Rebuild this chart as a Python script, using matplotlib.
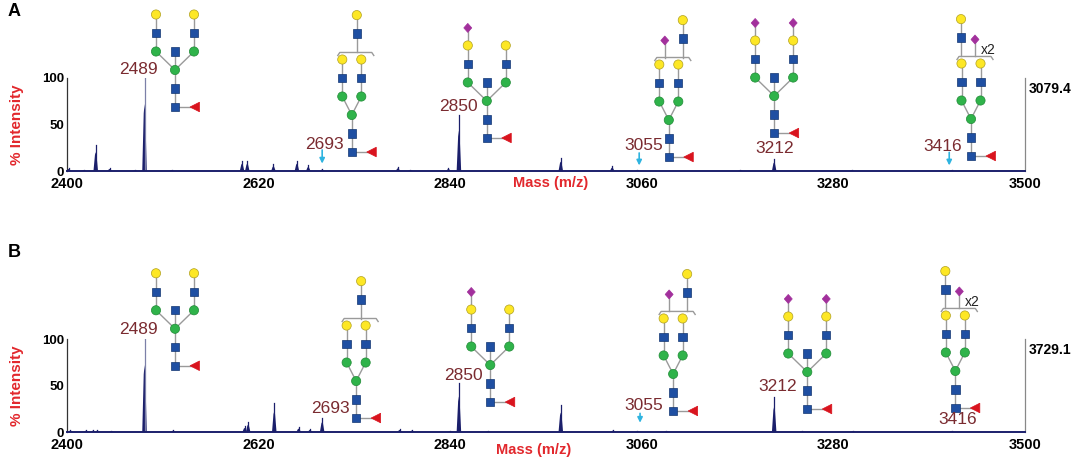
import matplotlib
matplotlib.use("Agg")
import matplotlib.pyplot as plt
import matplotlib.patches as mpatches
import matplotlib.transforms as mtransforms
from matplotlib.lines import Line2D

plt.rcParams['font.family'] = ['Liberation Sans', 'DejaVu Sans']

# ---------------- data ----------------
xticks = [2400, 2620, 2840, 3060, 3280, 3500]
yticks = [0, 50, 100]

A_mz = [2402, 2419, 2433, 2449, 2478, 2489, 2520, 2601, 2607, 2637, 2664, 2677, 2693,
        2780, 2794, 2838, 2850, 2967, 3026, 3055, 3173, 3212, 3301, 3416]
A_int = [3, 1, 28, 3, 1, 100, 1, 11, 11, 7, 11, 6, 2,
         4, 1, 3, 60, 14, 5, 1.5, 1, 13, 1, 1]
A_max = "3079.4"

B_mz = [2404, 2422, 2430, 2435, 2451, 2489, 2522, 2604, 2608, 2638, 2666, 2679, 2693,
        2782, 2796, 2840, 2850, 2883, 2967, 3027, 3055, 3088, 3212, 3244, 3302, 3416]
B_int = [2, 2, 2, 2, 1, 100, 2, 6, 11, 31, 5, 3, 15,
         3, 2, 1, 53, 1, 29, 2, 1, 1, 38, 1, 1, 1.5]
B_max = "3729.1"

peak_labels = ["2489", "2693", "2850", "3055", "3212", "3416"]
A_label_x = [2482, 2696, 2850, 3062, 3212, 3406]
A_label_y = [109, 28, 69, 27, 24, 26]
B_label_x = [2482, 2702, 2855, 3062, 3216, 3423]
B_label_y = [110, 25, 61, 29, 49, 13]

A_arrows = [(2693, 22.6, 8.0), (3057, 19.4, 6.0), (3413, 20, 6.0)]
B_arrows = [(3058, 20, 10.0)]

# glycan anchors (centre mannose): type, m/z, % level
glycan_kinds = ["bis", "br2", "bis_s1", "br4", "bis_s2", "br6"]
A_gly_x = [2524, 2727, 2882, 3091, 3212, 3438]
A_gly_y = [108.6, 60.2, 75.3, 54.8, 80.6, 55.9]
B_gly_x = [2524, 2732, 2886, 3096, 3250, 3420]
B_gly_y = [111, 54.8, 72, 62.4, 64.5, 65.6]

# ---------------- styles ----------------
NAVY = "#1b1f6b"
DARKRED = "#7a2b30"
RED = "#e2282d"
CYAN = "#2fb4e0"
YEL = "#fde725"
BLUE = "#1f4fa2"
GREEN = "#2fb34a"
PURP = "#a2309c"
FUCR = "#d9141e"
LINE = "#9a9a9a"

W, H = 1084, 465
fig = plt.figure(figsize=(W / 100, H / 100), dpi=100)


def fig_rect(x0, ytop, x1, ybot):
    return [x0 / W, 1 - ybot / H, (x1 - x0) / W, (ybot - ytop) / H]


U = 18.5


def draw_glycan(ax, kind, mx, my):
    tr = mtransforms.ScaledTranslation(mx, my, ax.transData)
    lines = []
    nodes = []  # (shape, x, y)
    # core
    nodes += [("sq", 0, -U), ("sq", 0, -2 * U), ("fuc", 20, -2 * U), ("ci", 0, 0, GREEN)]
    lines += [[(0, 0), (0, -2 * U)], [(0, -2 * U), (20, -2 * U)]]
    if kind.startswith("bis"):
        a = 19
        nodes += [("sq", 0, U)]
        lines += [[(0, 0), (0, U)]]
        sial = {"bis": [], "bis_s1": [-a], "bis_s2": [-a, a]}[kind]
        for s in (-a, a):
            lines += [[(0, 0), (s, U)], [(s, U), (s, 4 * U if s in sial else 3 * U)]]
            nodes += [("ci", s, U, GREEN), ("sq", s, 2 * U), ("ci", s, 3 * U, YEL)]
            if s in sial:
                nodes += [("di", s, 3.95 * U)]
    else:
        a = 9.5
        for s in (-a, a):
            lines += [[(0, 0), (s, U)], [(s, U), (s, 3 * U)]]
            nodes += [("ci", s, U, GREEN), ("sq", s, 2 * U), ("ci", s, 3 * U, YEL)]
        by = 3.38 * U
        bx0, bx1 = -14, 22
        lines += [[(bx0, by - 3), (bx0 + 2, by), (bx1 - 2, by), (bx1, by - 3)]]
        frags = {"br2": [("yb", 5)], "br4": [("yb", 14), ("s", -4)],
                 "br6": [("yb", -10), ("s", 4)]}[kind]
        for f, dx in frags:
            if f == "yb":
                nodes += [("sq", dx, 4.4 * U), ("ci", dx, 5.4 * U, YEL)]
                lines += [[(dx, by), (dx, 5.4 * U)]]
            else:
                nodes += [("di", dx, 4.3 * U)]
                lines += [[(dx, by), (dx, 4.3 * U)]]
        if kind == "br6":
            ax.text(17, 3.72 * U, "x2", transform=tr, fontsize=10, ha="center",
                    va="center", color="#222222", clip_on=False)
    for pts in lines:
        xs, ys = zip(*pts)
        ax.add_line(Line2D(xs, ys, color=LINE, lw=1.0, transform=tr,
                           clip_on=False, zorder=5))
    for nd in nodes:
        shp, x, y = nd[0], nd[1], nd[2]
        if shp == "ci":
            p = mpatches.Circle((x, y), 4.6, facecolor=nd[3],
                                edgecolor="#b0a020" if nd[3] == YEL else "#1f8a35", lw=0.5)
        elif shp == "sq":
            p = mpatches.Rectangle((x - 4.2, y - 4.2), 8.4, 8.4, facecolor=BLUE,
                                   edgecolor="#123570", lw=0.5)
        elif shp == "di":
            p = mpatches.Polygon([(x, y + 4.5), (x + 4, y), (x, y - 4.5), (x - 4, y)],
                                 closed=True, facecolor=PURP, edgecolor=PURP, lw=0.5)
        else:
            p = mpatches.Polygon([(x - 5, y), (x + 4.5, y + 4.8), (x + 4.5, y - 4.8)],
                                 closed=True, facecolor=FUCR, edgecolor=FUCR, lw=0.5)
        p.set_transform(tr)
        p.set_clip_on(False)
        p.set_zorder(6)
        ax.add_patch(p)


def panel(rect, mz, inten, maxlab, lab_x, lab_y, arrows, gx, gy, letter, letter_y,
          xlab_x, xlab_y):
    ax = fig.add_axes(rect)
    ax.set_xlim(2400, 3500)
    ax.set_ylim(0, 100)
    for m, h in zip(mz, inten):
        w = 2.6
        ax.fill([m - w, m - 0.9, m, m + 0.9, m + w], [0, 0.62 * h, 0.72 * h, 0.62 * h, 0],
                color=NAVY, lw=0, zorder=3)
        ax.plot([m, m], [0, h], color=NAVY if h < 80 else "#7c80a8", lw=0.9, zorder=3)
    ax.plot([2400, 3500], [0, 0], color=NAVY, lw=1.4, zorder=4, clip_on=False)
    for s in ("top", "bottom"):
        ax.spines[s].set_visible(False)
    ax.spines["left"].set_color("#333333")
    ax.spines["left"].set_linewidth(0.9)
    ax.spines["right"].set_color("#888888")
    ax.spines["right"].set_linewidth(0.9)
    ax.set_xticks(xticks)
    ax.set_xticklabels([str(t) for t in xticks], fontsize=10.5, fontweight="bold")
    ax.set_yticks(yticks)
    ax.set_yticklabels([str(t) for t in yticks], fontsize=9.5, fontweight="bold")
    ax.tick_params(length=0, pad=2)
    ax.tick_params(axis="x", pad=4)
    ax.patch.set_alpha(0)
    ax.text(1.004, 0.88, maxlab, transform=ax.transAxes, fontsize=10, fontweight="bold",
            ha="left", va="center")
    ax.set_ylabel("% Intensity", color=RED, fontsize=11, fontweight="bold", labelpad=13)
    ax.text(xlab_x, xlab_y, "Mass (m/z)",
            transform=mtransforms.blended_transform_factory(ax.transData, ax.transAxes),
            color=RED, fontsize=10.5, fontweight="bold", ha="center", va="center")
    for t, x, y in zip(peak_labels, lab_x, lab_y):
        ax.text(x, y, t, color=DARKRED, fontsize=12.5, ha="center", va="center",
                clip_on=False, zorder=7)
    for x, y0, y1 in arrows:
        ax.annotate("", xy=(x, y1), xytext=(x, y0),
                    arrowprops=dict(arrowstyle="-|>,head_length=0.3,head_width=0.15",
                                    color=CYAN, lw=1.2, shrinkA=0, shrinkB=0),
                    annotation_clip=False)
    for k, x, y in zip(glycan_kinds, gx, gy):
        draw_glycan(ax, k, x, y)
    fig.text(14 / W, 1 - letter_y / H, letter, fontsize=13, fontweight="bold",
             ha="center", va="center")
    return ax


panel(fig_rect(67, 78, 1025, 171), A_mz, A_int, A_max, A_label_x, A_label_y, A_arrows,
      A_gly_x, A_gly_y, "A", 11, 2955, -0.13)
panel(fig_rect(67, 339, 1025, 432), B_mz, B_int, B_max, B_label_x, B_label_y, B_arrows,
      B_gly_x, B_gly_y, "B", 252, 2936, -0.195)

fig.savefig("out.png", dpi=100)
